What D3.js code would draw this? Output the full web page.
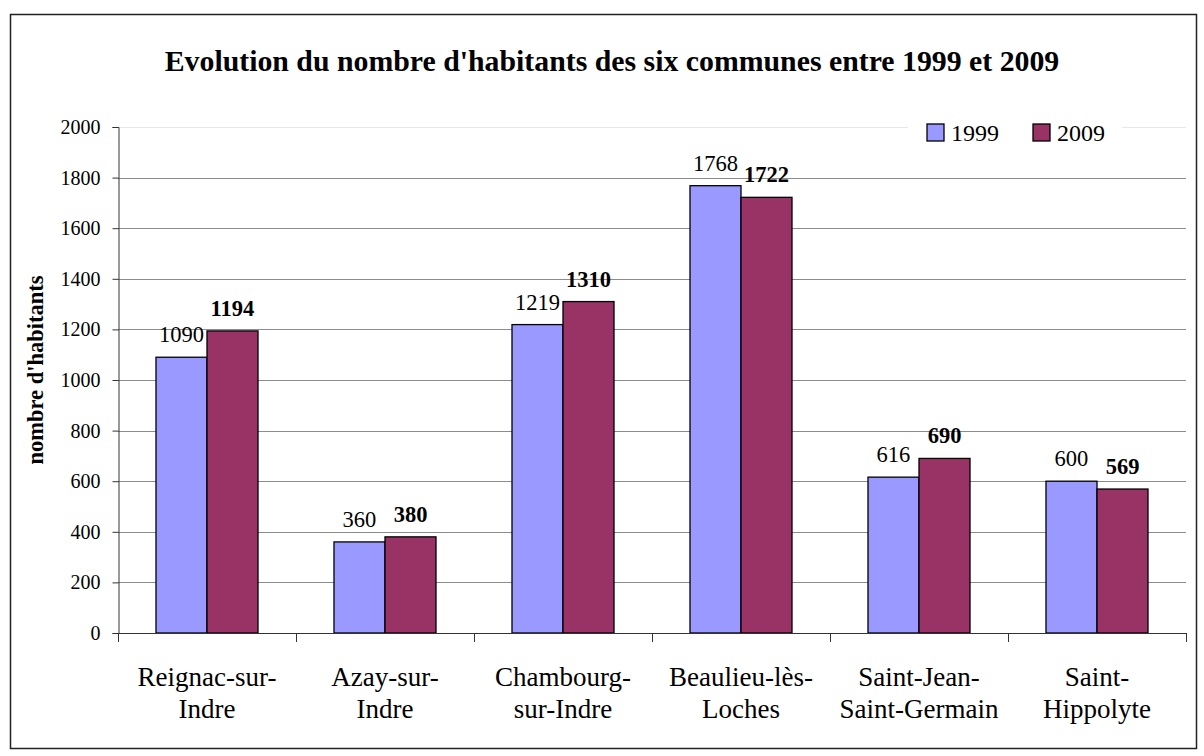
<!DOCTYPE html>
<html>
<head>
<meta charset="utf-8">
<script src="https://cdn.jsdelivr.net/npm/d3@7"></script>
<style>
  body { margin: 0; background: #fff; }
  svg, svg text { font-family: "Liberation Serif", "Times New Roman", serif; }
</style>
</head>
<body>
<div class="figure"></div>
<script>
const communes = [["Reignac-sur-", "Indre"], ["Azay-sur-", "Indre"], ["Chambourg-", "sur-Indre"],
                  ["Beaulieu-lès-", "Loches"], ["Saint-Jean-", "Saint-Germain"], ["Saint-", "Hippolyte"]]
const years = ["1999", "2009"]
const values1999 = [1090, 360, 1219, 1768, 616, 600]
const values2009 = [1194, 380, 1310, 1722, 690, 569]
const yTicks = [0, 200, 400, 600, 800, 1000, 1200, 1400, 1600, 1800, 2000]
const colors = ["#9999FF", "#993366"]

let width = 1204
let height = 756

const svg = d3.select(".figure").append("svg")
    .attr("width", width)
    .attr("height", height)

// outer frame
svg.append("rect")
    .attr("x", 10.5).attr("y", 14.5)
    .attr("width", 1186).attr("height", 734)
    .attr("fill", "#fff")
    .attr("stroke", "#222")
    .attr("stroke-width", 1.5)

const plotLeft = 118, plotRight = 1186, plotTop = 127, plotBottom = 633

let x = d3.scaleBand().domain(d3.range(communes.length)).range([plotLeft, plotRight])
let xs = d3.scaleBand().domain(years).range([0, x.bandwidth()]).paddingOuter(0.745).paddingInner(0)
let y = d3.scaleLinear().domain([0, 2000]).range([plotBottom, plotTop])

// gridlines
svg.append("g").selectAll("line")
    .data(yTicks.filter(d => d > 0))
    .join("line")
    .attr("x1", plotLeft).attr("x2", plotRight)
    .attr("y1", d => Math.round(y(d)) + 0.5).attr("y2", d => Math.round(y(d)) + 0.5)
    .attr("stroke", d => d == 2000 ? "#e8e8e8" : "#8c8c8c")
    .attr("stroke-width", 1)

// y axis
const yAxis = svg.append("g")
    .attr("transform", `translate(${plotLeft + 0.5},0)`)
    .call(d3.axisLeft(y).tickValues(yTicks).tickFormat(d3.format("d")).tickSize(6).tickPadding(12))
yAxis.attr("font-family", null)
yAxis.select(".domain").attr("stroke", "#333")
yAxis.selectAll(".tick line").attr("stroke", "#333")
yAxis.selectAll("text").attr("font-size", 20).attr("fill", "#000")

// bars
const groups = svg.append("g").selectAll("g")
    .data(communes.map((c, i) => ({ i: i, vals: [values1999[i], values2009[i]] })))
    .join("g")
    .attr("transform", d => `translate(${x(d.i)},0)`)

groups.selectAll("rect")
    .data(d => d.vals.map((v, k) => ({ year: years[k], v: v, k: k })))
    .join("rect")
    .attr("x", d => xs(d.year))
    .attr("y", d => y(d.v))
    .attr("width", xs.bandwidth())
    .attr("height", d => plotBottom - y(d.v))
    .attr("fill", d => colors[d.k])
    .attr("stroke", "#000")
    .attr("stroke-width", 1.3)

groups.selectAll("text")
    .data(d => d.vals.map((v, k) => ({ year: years[k], v: v, k: k })))
    .join("text")
    .attr("x", d => xs(d.year) + xs.bandwidth() / 2)
    .attr("y", d => y(d.v) - 15)
    .attr("text-anchor", "middle")
    .attr("font-size", 22.5)
    .attr("font-weight", d => d.k == 1 ? "bold" : "normal")
    .text(d => d.v)

// x axis
svg.append("line")
    .attr("x1", plotLeft).attr("x2", plotRight)
    .attr("y1", plotBottom + 0.5).attr("y2", plotBottom + 0.5)
    .attr("stroke", "#333")
svg.append("g").selectAll("line")
    .data(d3.range(communes.length + 1))
    .join("line")
    .attr("x1", d => plotLeft + d * x.step() + 0.5).attr("x2", d => plotLeft + d * x.step() + 0.5)
    .attr("y1", plotBottom).attr("y2", plotBottom + 9)
    .attr("stroke", "#333")

const labels = svg.append("g").selectAll("text")
    .data(communes)
    .join("text")
    .attr("text-anchor", "middle")
    .attr("font-size", 27)
labels.each(function(d, i) {
    d3.select(this).selectAll("tspan")
        .data(d)
        .join("tspan")
        .attr("x", x(i) + x.bandwidth() / 2)
        .attr("y", (t, k) => 686 + k * 32)
        .text(t => t)
})

// title
svg.append("text")
    .attr("x", 612).attr("y", 71)
    .attr("text-anchor", "middle")
    .attr("font-size", 29.8)
    .attr("font-weight", "bold")
    .text("Evolution du nombre d'habitants des six communes entre 1999 et 2009")

// y title
svg.append("text")
    .attr("transform", "translate(43,370) rotate(-90)")
    .attr("text-anchor", "middle")
    .attr("font-size", 22.5)
    .attr("font-weight", "bold")
    .text("nombre d'habitants")

// legend (white box hides the 2000 gridline behind it)
svg.append("rect")
    .attr("x", 908).attr("y", 118).attr("width", 214).attr("height", 28)
    .attr("fill", "#fff")
const leg = svg.append("g").selectAll("g")
    .data(years)
    .join("g")
    .attr("transform", (d, i) => `translate(${927 + i * 106},124)`)
leg.append("rect")
    .attr("width", 17).attr("height", 17)
    .attr("fill", (d, i) => colors[i])
    .attr("stroke", "#000")
    .attr("stroke-width", 1.3)
leg.append("text")
    .attr("x", 24).attr("y", 17)
    .attr("font-size", 24)
    .text(d => d)
</script>
</body>
</html>
